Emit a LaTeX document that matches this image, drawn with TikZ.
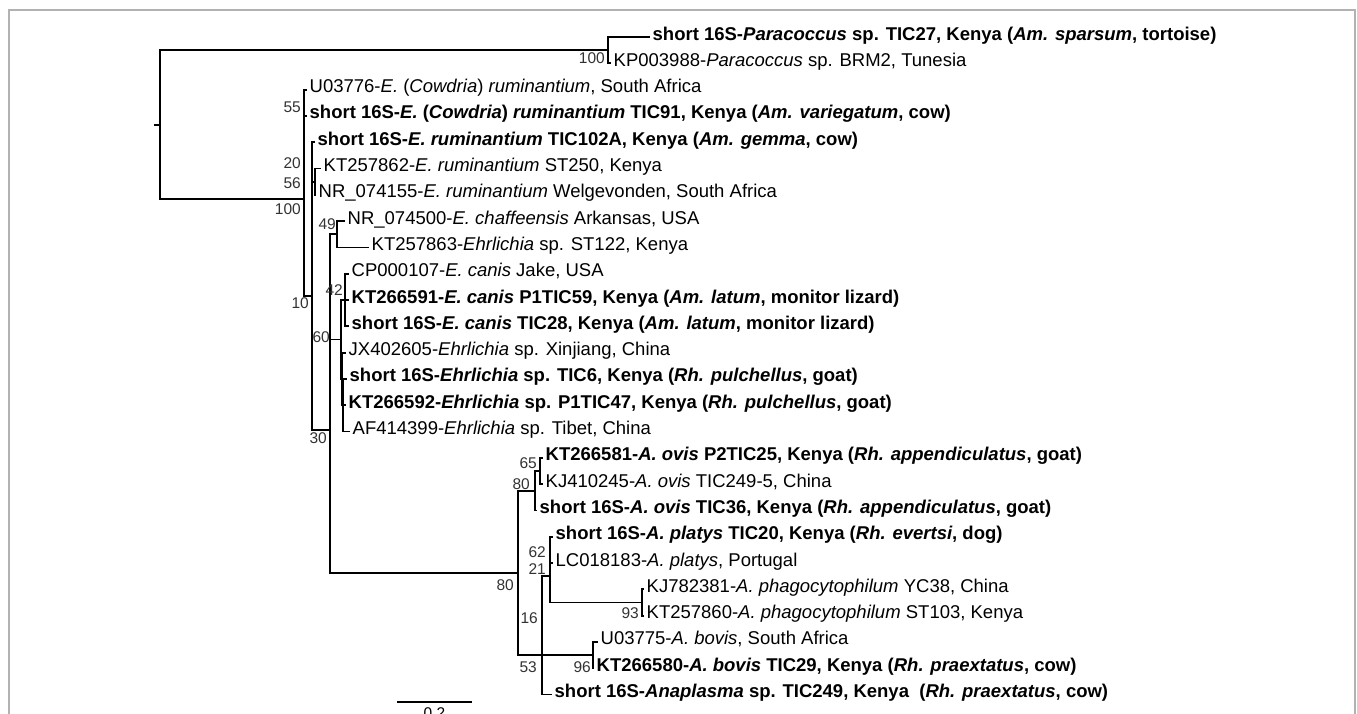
\documentclass[tikz,border=0pt]{standalone}
\usepackage{fontspec}
\setmainfont{Liberation Sans}
\usetikzlibrary{calc}
\tikzset{
  br/.style={line width=1.8pt},
  lf/.style={anchor=west,inner sep=2.5pt,text height=1.45ex,text depth=.3ex,font=\fontsize{18.5}{22}\selectfont},
  lfb/.style={lf,font=\fontsize{18.5}{22}\selectfont\bfseries},
  bs/.style={anchor=east,inner sep=1pt,text=black!80,font=\fontsize{15.5}{18}\selectfont}
}
\begin{document}
\begin{tikzpicture}[x=1pt,y=-1pt]
\useasboundingbox (0,0) rectangle (1357,713);
\draw[gray!60,line width=1.5pt] (9,720) -- (9,10) -- (1355,10) -- (1355,720);
% leaves
\node[lfb] (l1) at (650,37.0) {short 16S-\textit{Paracoccus} sp. TIC27, Kenya (\textit{Am. sparsum}, tortoise)};
\node[lf]  (l2) at (611,63.3) {KP003988-\textit{Paracoccus} sp. BRM2, Tunesia};
\node[lf]  (l3) at (307,89.6) {U03776-\textit{E.} (\textit{Cowdria}) \textit{ruminantium}, South Africa};
\node[lfb] (l4) at (307,115.9) {short 16S-\textit{E.} (\textit{Cowdria}) \textit{ruminantium} TIC91, Kenya (\textit{Am. variegatum}, cow)};
\node[lfb] (l5) at (315,142.2) {short 16S-\textit{E. ruminantium} TIC102A, Kenya (\textit{Am. gemma}, cow)};
\node[lf]  (l6) at (321,168.5) {KT257862-\textit{E. ruminantium} ST250, Kenya};
\node[lf]  (l7) at (316,194.8) {NR\_074155-\textit{E. ruminantium} Welgevonden, South Africa};
\node[lf]  (l8) at (345,221.1) {NR\_074500-\textit{E. chaffeensis} Arkansas, USA};
\node[lf]  (l9) at (369,247.4) {KT257863-\textit{Ehrlichia} sp. ST122, Kenya};
\node[lf]  (l10) at (349,273.7) {CP000107-\textit{E. canis} Jake, USA};
\node[lfb] (l11) at (349,300.0) {KT266591-\textit{E. canis} P1TIC59, Kenya (\textit{Am. latum}, monitor lizard)};
\node[lfb] (l12) at (349,326.3) {short 16S-\textit{E. canis} TIC28, Kenya (\textit{Am. latum}, monitor lizard)};
\node[lf]  (l13) at (346,352.6) {JX402605-\textit{Ehrlichia} sp. Xinjiang, China};
\node[lfb] (l14) at (347,378.9) {short 16S-\textit{Ehrlichia} sp. TIC6, Kenya (\textit{Rh. pulchellus}, goat)};
\node[lfb] (l15) at (346,405.2) {KT266592-\textit{Ehrlichia} sp. P1TIC47, Kenya (\textit{Rh. pulchellus}, goat)};
\node[lf]  (l16) at (350,431.5) {AF414399-\textit{Ehrlichia} sp. Tibet, China};
\node[lfb] (l17) at (543,457.8) {KT266581-\textit{A. ovis} P2TIC25, Kenya (\textit{Rh. appendiculatus}, goat)};
\node[lf]  (l18) at (543,484.1) {KJ410245-\textit{A. ovis} TIC249-5, China};
\node[lfb] (l19) at (537,510.4) {short 16S-\textit{A. ovis} TIC36, Kenya (\textit{Rh. appendiculatus}, goat)};
\node[lfb] (l20) at (553,536.7) {short 16S-\textit{A. platys} TIC20, Kenya (\textit{Rh. evertsi}, dog)};
\node[lf]  (l21) at (553,563.0) {LC018183-\textit{A. platys}, Portugal};
\node[lf]  (l22) at (644,589.3) {KJ782381-\textit{A. phagocytophilum} YC38, China};
\node[lf]  (l23) at (644,615.6) {KT257860-\textit{A. phagocytophilum} ST103, Kenya};
\node[lf]  (l24) at (598,641.9) {U03775-\textit{A. bovis}, South Africa};
\node[lfb] (l25) at (594,668.2) {KT266580-\textit{A. bovis} TIC29, Kenya (\textit{Rh. praextatus}, cow)};
\node[lfb] (l26) at (552,694.5) {short 16S-\textit{Anaplasma} sp. TIC249, Kenya\ \ (\textit{Rh. praextatus}, cow)};
% internal nodes
\coordinate (Rs) at (154,124.7);
\coordinate (R) at (160,124.7);
\coordinate (Npar) at (608,50.2);
\coordinate (Ning) at (304,199.3);
\coordinate (N55) at (304,102.7);
\coordinate (N10) at (312,295.9);
\coordinate (N20) at (312,161.9);
\coordinate (N56) at (315,181.6);
\coordinate (N30) at (330,429.9);
\coordinate (Nx) at (330,286.9);
\coordinate (N49) at (337,234.3);
\coordinate (N60) at (341,339.5);
\coordinate (Ncan) at (345,300.0);
\coordinate (NY) at (342,378.9);
\coordinate (NZ) at (343,405.2);
\coordinate (Nana) at (518,572.9);
\coordinate (N80) at (535,490.7);
\coordinate (N65) at (540,471.0);
\coordinate (N53) at (542,655.1);
\coordinate (N16) at (542,615.6);
\coordinate (N21) at (550,576.2);
\coordinate (N62) at (550,549.9);
\coordinate (N93) at (642,602.5);
\coordinate (N96) at (593,655.1);
% branches
\draw[br] (Rs) -- (R);
\foreach \a/\b in {R/Npar,R/Ning,Npar/l1.west,Npar/l2.west,Ning/N55,Ning/N10,
   N55/l3.west,N55/l4.west,N10/N20,N10/N30,N20/l5.west,N20/N56,N56/l6.west,N56/l7.west,
   N30/Nx,N30/Nana,Nx/N49,Nx/N60,N49/l8.west,N49/l9.west,N60/Ncan,N60/NY,
   Ncan/l10.west,Ncan/l11.west,Ncan/l12.west,NY/l13.west,NY/NZ,
   NZ/l14.west,NZ/l15.west,NZ/l16.west,Nana/N80,Nana/N53,N80/N65,N80/l19.west,
   N65/l17.west,N65/l18.west,N53/N16,N53/l26.west,N16/N21,N16/N96,N21/N62,N21/N93,
   N62/l20.west,N62/l21.west,N93/l22.west,N93/l23.west,N96/l24.west,N96/l25.west}
   \draw[br] (\a) |- (\b);
% bootstrap values
\foreach \v/\x/\y [count=\k] in {100/606/58,55/302/107,20/302/163,56/302/183,100/302/209,
   49/337/224,42/344/290,10/310/303,60/331/337,30/328/438,65/538/463,80/531/484,
   62/547/552,21/547/569,80/515/585,16/539/618,93/640/613,53/538/667,96/592/667}
   \node[bs] (bs\k) at (\x,\y) {\v};
% scale bar
\coordinate (sbl) at (397,702);
\coordinate (sbr) at (472,702);
\draw[br] (sbl) -- (sbr) node[midway,below=1pt,font=\fontsize{15.5}{18}\selectfont] (sbt) {0.2};
\end{tikzpicture}
\end{document}
